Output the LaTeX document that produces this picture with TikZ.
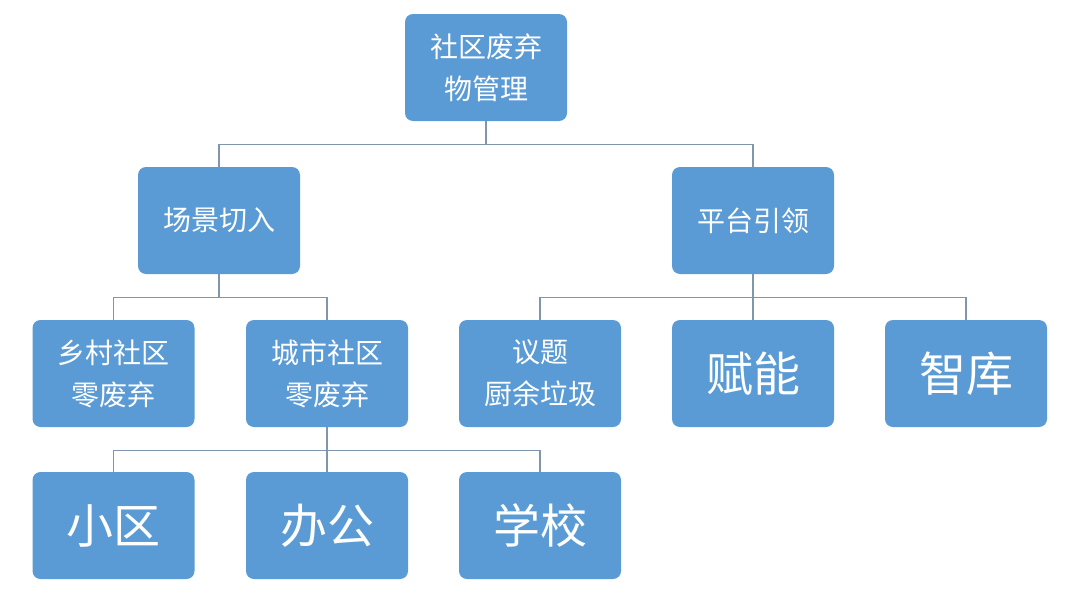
\documentclass[tikz,border=0pt]{standalone}
\usepackage{fontspec}
\newfontfamily\cjk{Noto Sans CJK SC}
\definecolor{boxblue}{HTML}{5B9BD5}
\definecolor{linegray}{HTML}{8096AC}
\begin{document}
\begin{tikzpicture}[x=1pt,y=-1pt,
  box/.style={fill=boxblue,rounded corners=8pt,minimum width=162pt,minimum height=107pt,
    inner sep=0pt,text=white,align=center,font=\cjk\fontsize{28}{42}\selectfont},
  bigbox/.style={box,font=\cjk\fontsize{47}{50}\selectfont},
  conn/.style={draw=linegray,line width=1.2pt}]
\useasboundingbox (0,0) rectangle (1080,616);
\fill[white] (0,0) rectangle (1080,616);
\node[box] (root) at (486,67.5) {社区废弃\\物管理};
\node[box] (cj) at (219,220.5) {场景切入};
\node[box] (pt) at (753,220.5) {平台引领};
\node[box] (xc) at (113.5,373.5) {乡村社区\\零废弃};
\node[box] (cs) at (327,373.5) {城市社区\\零废弃};
\node[box] (yt) at (540,373.5) {议题\\厨余垃圾};
\node[bigbox] (fn) at (753,373.5) {赋能};
\node[bigbox] (zk) at (966,373.5) {智库};
\node[bigbox] (xq) at (113.5,525.5) {小区};
\node[bigbox] (bg) at (327,525.5) {办公};
\node[bigbox] (xx) at (540,525.5) {学校};
\draw[conn] (root.south) -- ++(0,23) -| (cj.north);
\draw[conn] (root.south) -- ++(0,23) -| (pt.north);
\draw[conn] (cj.south) -- ++(0,23) -| (xc.north);
\draw[conn] (cj.south) -- ++(0,23) -| (cs.north);
\draw[conn] (pt.south) -- ++(0,23) -| (yt.north);
\draw[conn] (pt.south) -- (fn.north);
\draw[conn] (pt.south) -- ++(0,23) -| (zk.north);
\draw[conn] (cs.south) -- ++(0,23) -| (xq.north);
\draw[conn] (cs.south) -- (bg.north);
\draw[conn] (cs.south) -- ++(0,23) -| (xx.north);
\end{tikzpicture}
\end{document}
